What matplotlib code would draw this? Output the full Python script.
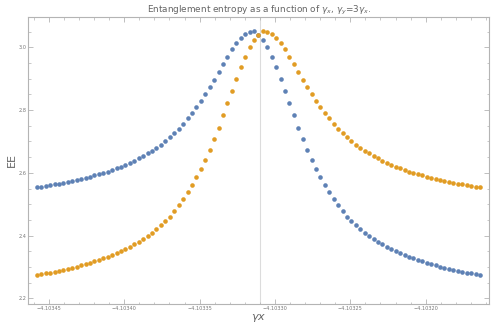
import matplotlib
matplotlib.use("Agg")
import matplotlib.pyplot as plt
import numpy as np
from matplotlib.ticker import MultipleLocator, FuncFormatter

# sampling grid in gamma_x (evenly spaced, 101 points)
gamma_start = -4.103458
gamma_stop = -4.103164
n_points = 101
gamma_mark = -4.10331

# EE for the two series
ee_blue = [
    2.554, 2.556, 2.559, 2.561, 2.564, 2.566, 2.569, 2.572, 2.575, 2.578,
    2.581, 2.585, 2.588, 2.592, 2.596, 2.600, 2.604, 2.609, 2.614, 2.619,
    2.625, 2.631, 2.638, 2.646, 2.653, 2.662, 2.671, 2.680, 2.690, 2.702,
    2.714, 2.727, 2.741, 2.757, 2.774, 2.791, 2.810, 2.830, 2.851, 2.873,
    2.897, 2.922, 2.947, 2.970, 2.993, 3.013, 3.029, 3.042, 3.050, 3.051,
    3.040, 3.024, 3.000, 2.970, 2.936, 2.899, 2.861, 2.821, 2.783, 2.744,
    2.708, 2.674, 2.642, 2.612, 2.586, 2.561, 2.538, 2.517, 2.497, 2.478,
    2.461, 2.447, 2.433, 2.421, 2.410, 2.399, 2.389, 2.380, 2.373, 2.365,
    2.358, 2.351, 2.345, 2.339, 2.333, 2.328, 2.323, 2.318, 2.314, 2.310,
    2.306, 2.301, 2.298, 2.295, 2.292, 2.289, 2.285, 2.282, 2.280, 2.277,
    2.275,
]
ee_orange = [
    2.275, 2.277, 2.280, 2.282, 2.285, 2.289, 2.292, 2.295, 2.298, 2.301,
    2.306, 2.310, 2.314, 2.318, 2.323, 2.328, 2.333, 2.339, 2.345, 2.351,
    2.358, 2.365, 2.373, 2.380, 2.389, 2.399, 2.410, 2.421, 2.433, 2.447,
    2.461, 2.478, 2.497, 2.517, 2.538, 2.561, 2.586, 2.612, 2.642, 2.674,
    2.708, 2.744, 2.783, 2.821, 2.861, 2.899, 2.936, 2.970, 3.000, 3.024,
    3.040, 3.051, 3.050, 3.042, 3.029, 3.013, 2.993, 2.970, 2.947, 2.922,
    2.897, 2.873, 2.851, 2.830, 2.810, 2.791, 2.774, 2.757, 2.741, 2.727,
    2.714, 2.702, 2.690, 2.680, 2.671, 2.662, 2.653, 2.646, 2.638, 2.631,
    2.625, 2.619, 2.614, 2.609, 2.604, 2.600, 2.596, 2.592, 2.588, 2.585,
    2.581, 2.578, 2.575, 2.572, 2.569, 2.566, 2.564, 2.561, 2.559, 2.556,
    2.554,
]

gamma_x = np.linspace(gamma_start, gamma_stop, n_points)

frame_col = "#b4b4b4"
text_col = "#646464"

fig = plt.figure(figsize=(4.91, 3.24), dpi=100)
ax = fig.add_axes([0.0576, 0.0627, 0.9389, 0.8839])

ax.axvline(gamma_mark, color="#dcdcdc", linewidth=0.8, zorder=1)
ax.plot(gamma_x, ee_blue, "o", color="#5e81b5", markersize=3.3,
        markeredgewidth=0, zorder=3)
ax.plot(gamma_x, ee_orange, "o", color="#e19c24", markersize=3.3,
        markeredgewidth=0, zorder=4)

ax.set_xlim(-4.1034637, -4.1031578)
ax.set_ylim(2.1834, 3.0955)

ax.xaxis.set_major_locator(MultipleLocator(0.00005))
ax.xaxis.set_minor_locator(MultipleLocator(0.00001))
ax.yaxis.set_major_locator(MultipleLocator(0.2))
ax.yaxis.set_minor_locator(MultipleLocator(0.05))
ax.xaxis.set_major_formatter(FuncFormatter(lambda v, p: f"{v:.5f}".replace("-", "\u2212")))
ax.yaxis.set_major_formatter(FuncFormatter(lambda v, p: f"{v:.1f}"))

for s in ax.spines.values():
    s.set_color(frame_col)
    s.set_linewidth(0.8)

ax.tick_params(which="both", direction="in", top=True, right=True,
               color=frame_col, labelcolor="#787878", labelsize=3.6, pad=1.5)
ax.tick_params(which="major", length=3.5, width=0.6)
ax.tick_params(which="minor", length=1.8, width=0.5)

ax.set_title(r"Entanglement entropy as a function of $\gamma_x$, $\gamma_y$=3$\gamma_x$.",
             fontsize=6.4, color=text_col, pad=3)
ax.set_xlabel(r"$\gamma x$", fontsize=8, color=text_col, labelpad=1)
ax.set_ylabel("EE", fontsize=8, color=text_col, labelpad=1)

fig.savefig("out.png", dpi=100)
